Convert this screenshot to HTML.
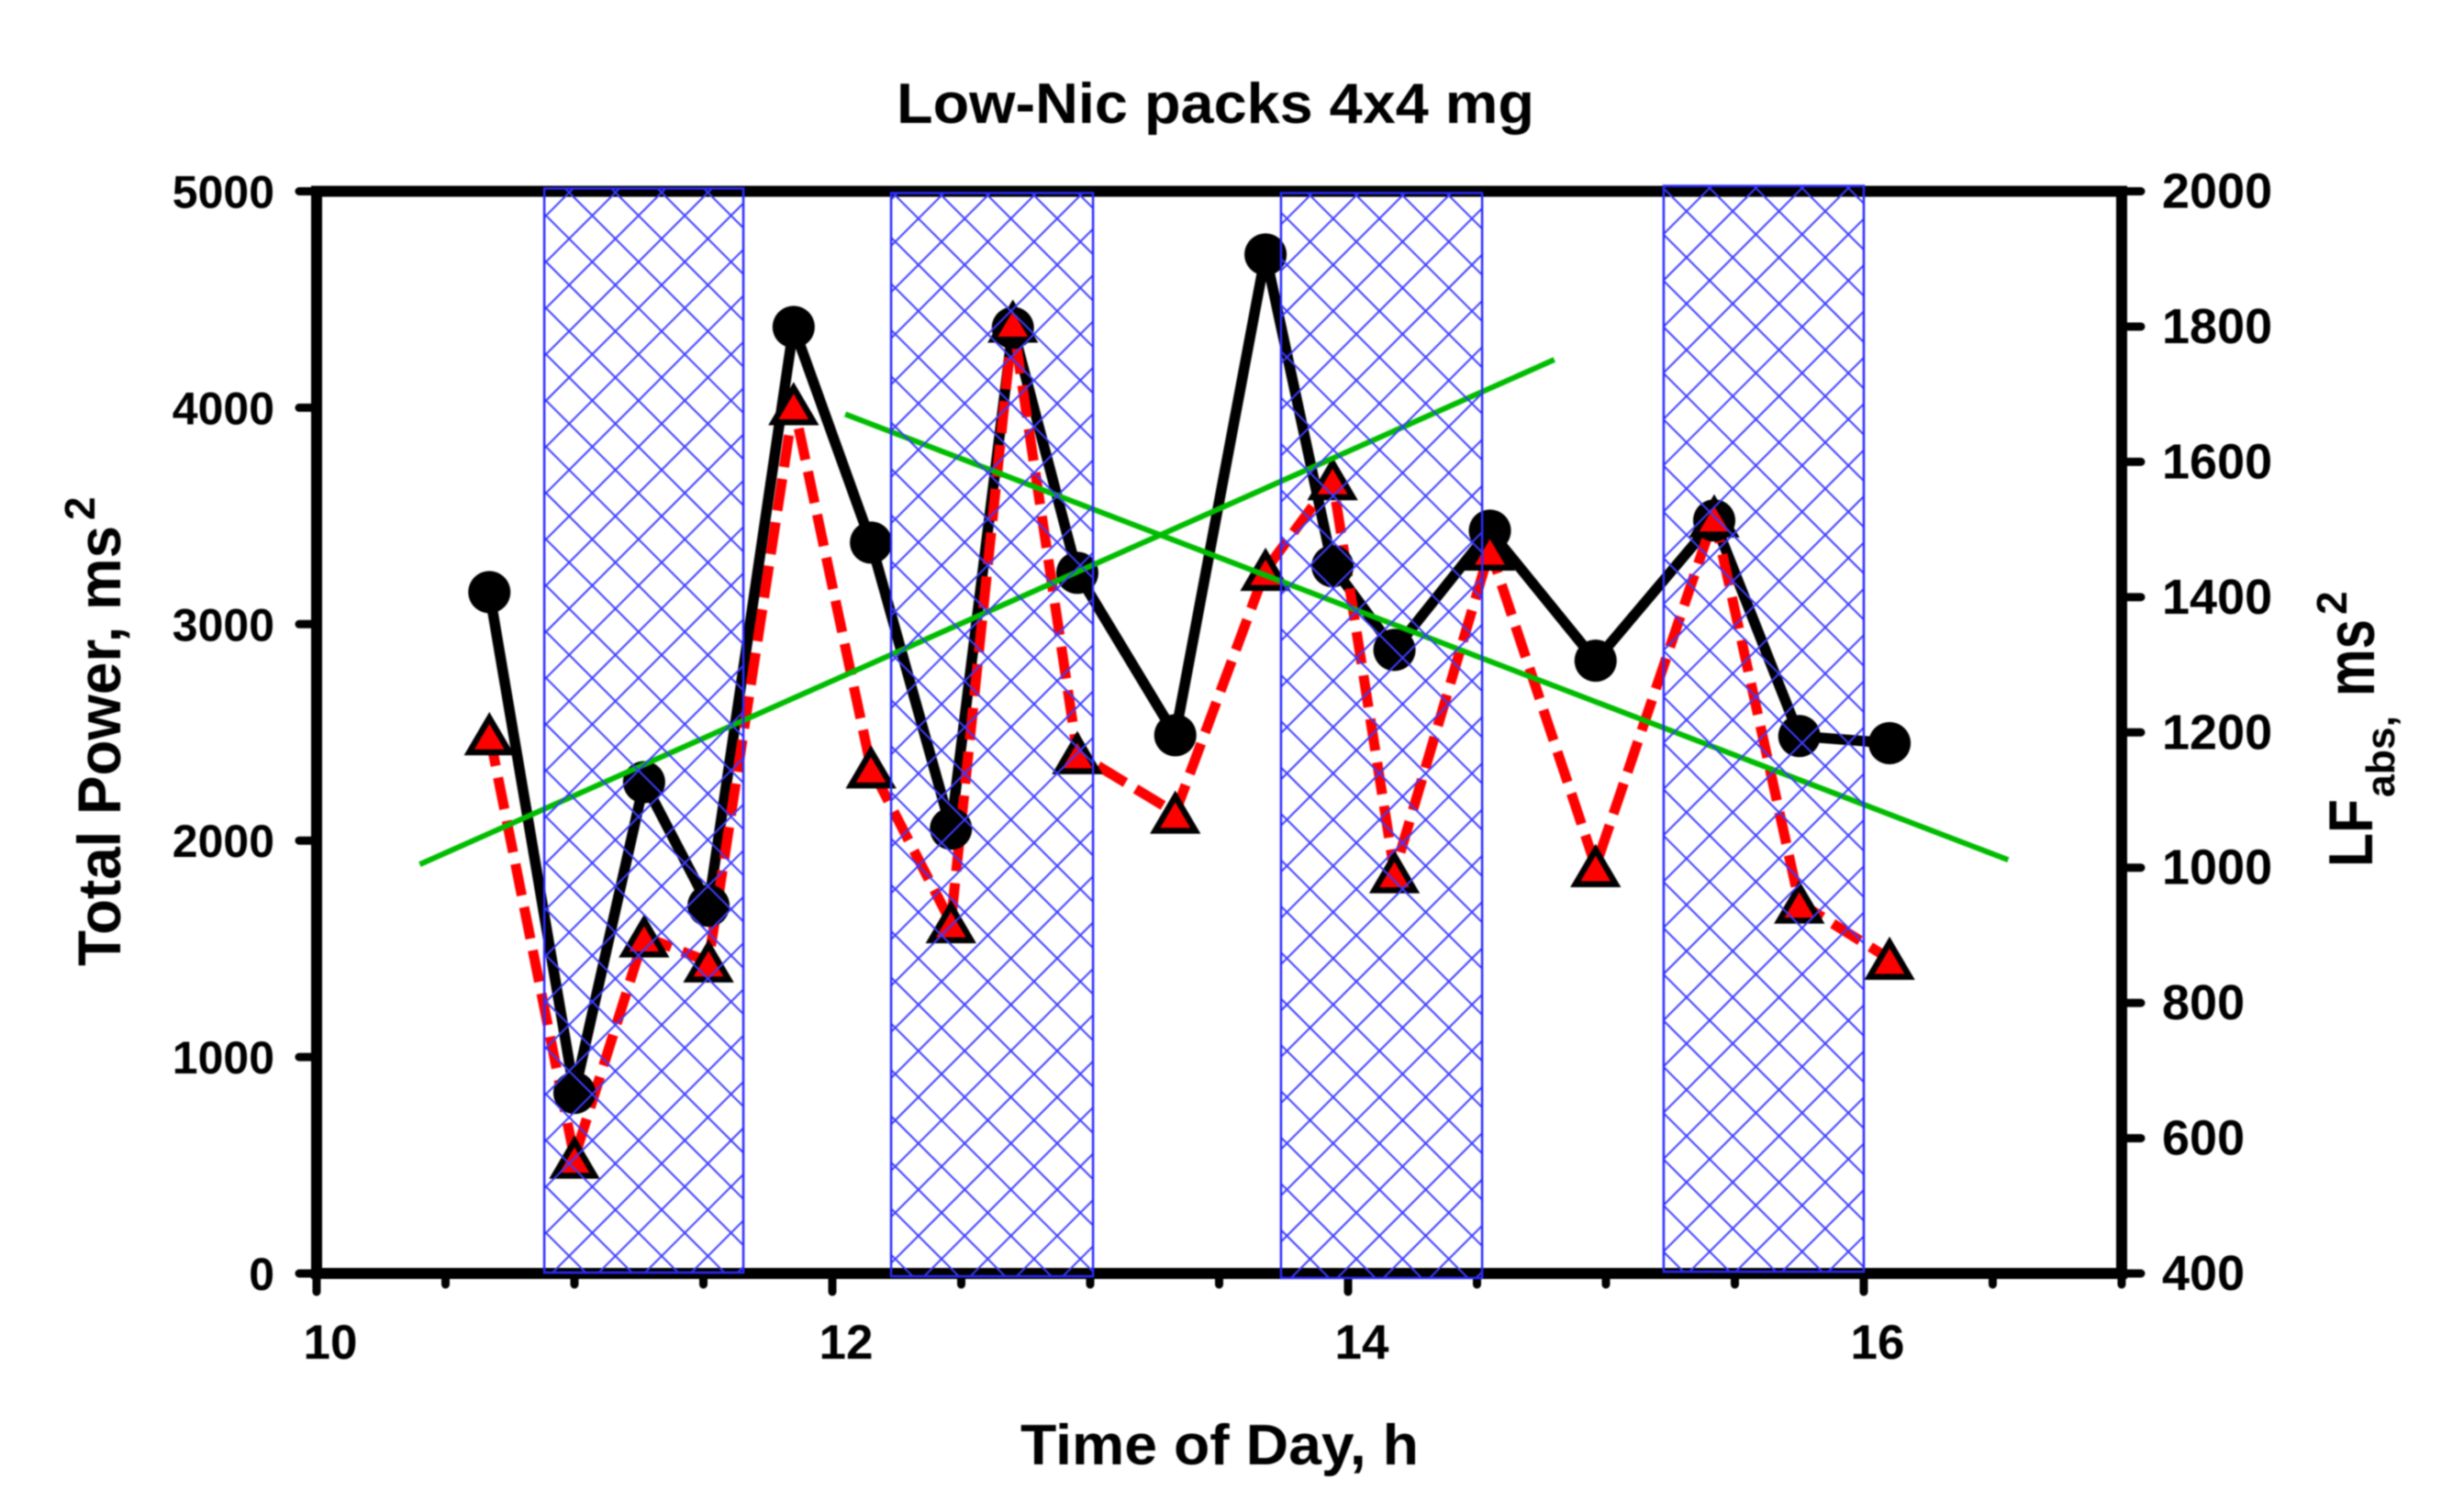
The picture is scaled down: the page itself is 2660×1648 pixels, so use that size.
<!DOCTYPE html>
<html lang="en">
<head>
<meta charset="utf-8">
<title>Low-Nic packs 4x4 mg</title>
<style>
html,body{margin:0;padding:0;background:#fff;width:2660px;height:1648px;overflow:hidden}
svg{display:block;filter:blur(0.7px)}
text{font-family:"Liberation Sans",Arial,sans-serif;font-weight:bold;fill:#000}
</style>
</head>
<body>
<svg id="chart" xmlns="http://www.w3.org/2000/svg" width="2660" height="1648" viewBox="0 0 2660 1648">

<text x="977" y="134" font-size="62" textLength="695" lengthAdjust="spacingAndGlyphs">Low-Nic packs 4x4 mg</text>
<text x="1112" y="1596" font-size="62" textLength="434" lengthAdjust="spacingAndGlyphs">Time of Day, h</text>

<text transform="translate(131 1053) rotate(-90)" font-size="66" textLength="480" lengthAdjust="spacingAndGlyphs">Total Power, ms</text>
<text transform="translate(103 567) rotate(-90)" font-size="46">2</text>

<text transform="translate(2585 945) rotate(-90)" font-size="68" textLength="74" lengthAdjust="spacingAndGlyphs">LF</text>
<text transform="translate(2609 869) rotate(-90)" font-size="44" textLength="89" lengthAdjust="spacingAndGlyphs">abs,</text>
<text transform="translate(2587 759) rotate(-90)" font-size="74" textLength="84" lengthAdjust="spacingAndGlyphs">ms</text>
<text transform="translate(2557 670) rotate(-90)" font-size="46">2</text>

<g id="series-layer"></g>
<g id="axes-layer"></g>
<g id="band-layer"></g>
</svg>

<script>
// Chart data
const times = [10.67, 11.00, 11.27, 11.52, 11.85, 12.15, 12.46, 12.70, 12.95, 13.33, 13.68, 13.94, 14.18, 14.55, 14.96, 15.42, 15.75, 16.10];
const totalPower = [3148, 834, 2270, 1699, 4373, 3377, 2055, 4369, 3237, 2487, 4708, 3268, 2881, 3432, 2831, 3479, 2483, 2450];
const lfAbs = [1197, 571, 898, 861, 1685, 1148, 919, 1807, 1169, 1081, 1440, 1574, 993, 1470, 1002, 1519, 948, 865];
const trendRiseTimes = [10.40, 14.80];
const trendRiseValues = [1890, 4222];
const trendFallTimes = [12.05, 16.56];
const trendFallValues = [3970, 1911];
const bandStarts = [10.883, 12.228, 13.74, 15.224];
const bandEnds = [11.655, 13.011, 14.52, 16.0];
const bandTops = [5013, 4992, 4992, 5025];
const bandBottoms = [4, -13, -21, 8];
const leftTicks = [0, 1000, 2000, 3000, 4000, 5000];
const rightTicks = [400, 600, 800, 1000, 1200, 1400, 1600, 1800, 2000];
const xMajorTicks = [10, 12, 14, 16];
const xMinorTicks = [10.5, 11, 11.5, 12.5, 13, 13.5, 14.5, 15, 15.5, 16.5, 17];

const NS = 'http://www.w3.org/2000/svg';
const plotLeft = 345, plotRight = 2312, plotTop = 208.5, plotBottom = 1388;
const hatchPitch = 50.4;
function hatchOrigin(i) {
  if (i === 0) return [595, 235];
  if (i === 1) return [1026, 213];
  if (i === 2) return [1478, 213];
  return [1863, 205];
}
function xScale(h) { return plotLeft + (h - 10) / 7 * (plotRight - plotLeft); }
function yLeft(v) { return plotBottom - v / 5000 * (plotBottom - plotTop); }
function yRight(v) { return plotBottom - (v - 400) / 1600 * (plotBottom - plotTop); }
function make(tag, parent, attrs) {
  const el = document.createElementNS(NS, tag);
  for (const k in attrs) el.setAttribute(k, attrs[k]);
  parent.appendChild(el);
  return el;
}
function pts(xs, ys) { return xs.map((x, i) => x.toFixed(1) + ',' + ys[i].toFixed(1)).join(' '); }

const series = document.getElementById('series-layer');
const axes = document.getElementById('axes-layer');
const bands = document.getElementById('band-layer');
const xPix = times.map(xScale);

// Black line
const tpLine = make('polyline', series, { points: pts(xPix, totalPower.map(yLeft)), fill: 'none', stroke: '#000', 'stroke-width': 11.5, 'stroke-linejoin': 'miter' });



// Red dashed line
const lfLine = make('polyline', series, { points: pts(xPix, lfAbs.map(yRight)), fill: 'none', stroke: '#f00', 'stroke-width': 11, 'stroke-dasharray': '35 13' });



// Black points
totalPower.forEach((v, i) => {
  const c = make('circle', series, { cx: xPix[i], cy: yLeft(v), r: 23, fill: '#000' });
  
  
});

// Red triangle points
lfAbs.forEach((v, i) => {
  const x = xPix[i], y = yRight(v);
  const t = make('polygon', series, { points: x + ',' + (y - 18) + ' ' + (x + 22) + ',' + (y + 19.5) + ' ' + (x - 22) + ',' + (y + 19.5), fill: '#f00', stroke: '#000', 'stroke-width': 6.5, 'stroke-linejoin': 'miter' });
  
  
});

// Trend lines
const rise = make('line', series, { x1: xScale(trendRiseTimes[0]), y1: yLeft(trendRiseValues[0]), x2: xScale(trendRiseTimes[1]), y2: yLeft(trendRiseValues[1]), stroke: '#00bc00', 'stroke-width': 6 });


const fall = make('line', series, { x1: xScale(trendFallTimes[0]), y1: yLeft(trendFallValues[0]), x2: xScale(trendFallTimes[1]), y2: yLeft(trendFallValues[1]), stroke: '#00bc00', 'stroke-width': 6 });



// Frame
const frame = make('rect', axes, { x: plotLeft, y: plotTop, width: plotRight - plotLeft, height: plotBottom - plotTop, fill: 'none', stroke: '#000', 'stroke-width': 12 });



// Left ticks and labels
leftTicks.forEach(v => {
  const y = yLeft(v);
  const t = make('line', axes, { x1: plotLeft, x2: 326, y1: y, y2: y, stroke: '#000', 'stroke-width': 9, 'stroke-linecap': 'round' });
  
  
  const l = make('text', axes, { x: 299, y: y + 18, 'font-size': 50, 'text-anchor': 'end' });
  l.textContent = v;
  
  
});

// Right ticks and labels
rightTicks.forEach(v => {
  const y = yRight(v);
  const t = make('line', axes, { x1: plotRight, x2: 2333, y1: y, y2: y, stroke: '#000', 'stroke-width': 9, 'stroke-linecap': 'round' });
  
  
  const l = make('text', axes, { x: 2356, y: y + 18, 'font-size': 54 });
  l.textContent = v;
  
  
});

// X ticks and labels
xMajorTicks.forEach(h => {
  const x = xScale(h);
  const t = make('line', axes, { x1: x, x2: x, y1: plotBottom, y2: 1408, stroke: '#000', 'stroke-width': 9, 'stroke-linecap': 'round' });
  
  
  const l = make('text', axes, { x: x + 15, y: 1481, 'font-size': 53, 'text-anchor': 'middle' });
  l.textContent = h;
  
  
});
xMinorTicks.forEach(h => {
  const x = xScale(h);
  const t = make('line', axes, { x1: x, x2: x, y1: plotBottom, y2: 1400, stroke: '#000', 'stroke-width': 9, 'stroke-linecap': 'round' });
  
  
});

// Hatched bands: diagonal lattice cut to each band, drawn over everything
bandStarts.forEach((s, i) => {
  const x1 = xScale(s), x2 = xScale(bandEnds[i]), y1 = yLeft(bandTops[i]), y2 = yLeft(bandBottoms[i]);
  const w = x2 - x1, h = y2 - y1;
  const o = hatchOrigin(i);
  const f = n => n.toFixed(1);
  let d = '';
  const base1 = o[1] - o[0];
  for (let k = Math.floor((y1 - x2 - base1) / hatchPitch); k <= Math.ceil((y2 - x1 - base1) / hatchPitch); k++) {
    const c = base1 + k * hatchPitch;
    const a = Math.max(x1, y1 - c), b = Math.min(x2, y2 - c);
    if (b > a) d += 'M' + f(a) + ' ' + f(a + c) + 'L' + f(b) + ' ' + f(b + c);
  }
  const base2 = o[0] + o[1];
  for (let k = Math.floor((y1 + x1 - base2) / hatchPitch); k <= Math.ceil((y2 + x2 - base2) / hatchPitch); k++) {
    const c = base2 + k * hatchPitch;
    const a = Math.max(x1, c - y2), b = Math.min(x2, c - y1);
    if (b > a) d += 'M' + f(a) + ' ' + f(c - a) + 'L' + f(b) + ' ' + f(c - b);
  }
  const hatch = make('path', bands, { d: d, fill: 'none', stroke: '#3c3cff', 'stroke-width': 2 });
  
  
  const r = make('rect', bands, { x: x1, y: y1, width: w, height: h, fill: 'none', stroke: '#2a2aff', 'stroke-width': 2.5 });
  
  
});
</script>
</body>
</html>
